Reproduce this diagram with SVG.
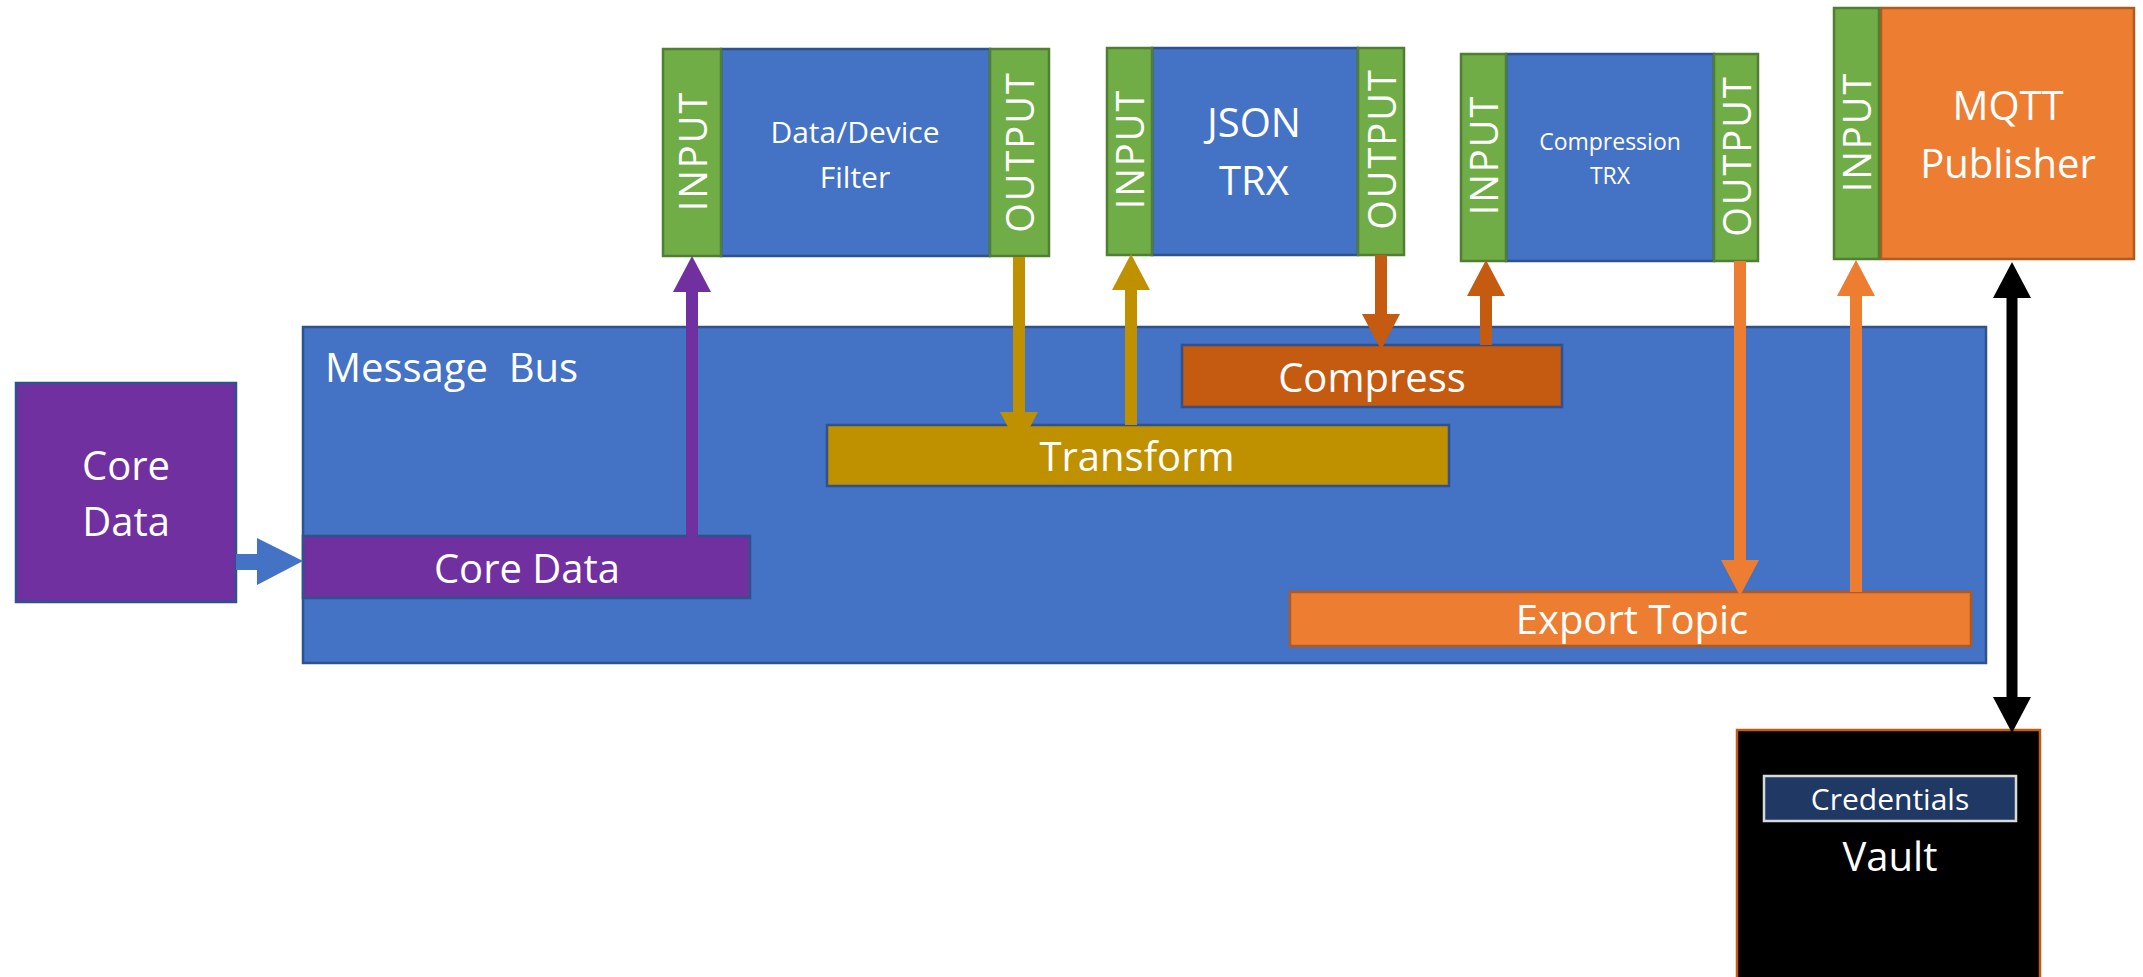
<svg xmlns="http://www.w3.org/2000/svg" width="2143" height="977" viewBox="0 0 2143 977">
<style>
text{font-family:"Open Sans","Noto Sans","Liberation Sans",sans-serif;fill:#fff;text-anchor:middle}
.t40{font-size:40px}
.t31{font-size:30px}
.t23{font-size:23px}
.io{font-size:38px;letter-spacing:2px}
.blue{fill:#4472C4;stroke:#2F528F;stroke-width:2.5}
.green{fill:#70AD47;stroke:#507E32;stroke-width:2.5}
.purple{fill:#7030A0;stroke:#2F528F;stroke-width:2.5}
.gold{fill:#BF9000;stroke:#2F528F;stroke-width:2.5}
.rust{fill:#C55A11;stroke:#2F528F;stroke-width:2.5}
.orange{fill:#ED7D31;stroke:#AE5A21;stroke-width:2.5}
.c{fill:none;stroke-width:12}
</style>
<defs>
<marker id="hP" markerUnits="userSpaceOnUse" markerWidth="36" markerHeight="38" viewBox="0 0 35 37" refX="0" refY="18.5" orient="auto"><path d="M0,0 L35,18.5 L0,37 z" fill="#7030A0"/></marker>
<marker id="hG" markerUnits="userSpaceOnUse" markerWidth="36" markerHeight="38" viewBox="0 0 35 37" refX="0" refY="18.5" orient="auto"><path d="M0,0 L35,18.5 L0,37 z" fill="#BF9000"/></marker>
<marker id="hR" markerUnits="userSpaceOnUse" markerWidth="36" markerHeight="38" viewBox="0 0 35 37" refX="0" refY="18.5" orient="auto"><path d="M0,0 L35,18.5 L0,37 z" fill="#C55A11"/></marker>
<marker id="hO" markerUnits="userSpaceOnUse" markerWidth="36" markerHeight="38" viewBox="0 0 35 37" refX="0" refY="18.5" orient="auto"><path d="M0,0 L35,18.5 L0,37 z" fill="#ED7D31"/></marker>
<marker id="hK" markerUnits="userSpaceOnUse" markerWidth="36" markerHeight="38" viewBox="0 0 35 37" refX="0" refY="18.5" orient="auto"><path d="M0,0 L35,18.5 L0,37 z" fill="#000"/></marker>
<marker id="hKs" markerUnits="userSpaceOnUse" markerWidth="36" markerHeight="38" viewBox="0 0 35 37" refX="0" refY="18.5" orient="auto-start-reverse"><path d="M0,0 L35,18.5 L0,37 z" fill="#000"/></marker>
</defs>

<g id="message-bus">
<rect class="blue" x="303" y="327" width="1683" height="336"/>
<text class="t40" x="325" y="382" style="text-anchor:start;white-space:pre" xml:space="preserve">Message  Bus</text>
</g>

<g id="core-data-src">
<rect class="purple" x="16" y="383" width="220" height="219"/>
<text class="t40" x="126" y="480">Core</text>
<text class="t40" x="126" y="536">Data</text>
</g>

<g id="core-data-topic">
<rect class="purple" x="303" y="536" width="447" height="62"/>
<text class="t40" x="527" y="583">Core Data</text>
</g>

<g id="transform-topic">
<rect class="gold" x="827" y="425" width="622" height="61"/>
<text class="t40" x="1137" y="471">Transform</text>
</g>

<g id="compress-topic">
<rect class="rust" x="1182" y="345" width="380" height="62"/>
<text class="t40" x="1372" y="392">Compress</text>
</g>

<g id="export-topic">
<rect class="orange" x="1290" y="592" width="681" height="54"/>
<text class="t40" x="1632" y="634">Export Topic</text>
</g>

<g id="filter">
<rect class="blue" x="721" y="49" width="269" height="207"/>
<rect class="green" x="663" y="49" width="58" height="207"/>
<rect class="green" x="990" y="49" width="59" height="207"/>
<text class="t31" x="855" y="143">Data/Device</text>
<text class="t31" x="855" y="188">Filter</text>
<text class="io" transform="translate(693,151) rotate(-90)" y="14">INPUT</text>
<text class="io" transform="translate(1020,152) rotate(-90)" y="14">OUTPUT</text>
</g>

<g id="json-trx">
<rect class="blue" x="1152" y="48" width="206" height="207"/>
<rect class="green" x="1107" y="48" width="45" height="207"/>
<rect class="green" x="1358" y="48" width="46" height="207"/>
<text class="t40" x="1254" y="137">JSON</text>
<text class="t40" x="1254" y="195">TRX</text>
<text class="io" transform="translate(1130,149) rotate(-90)" y="14">INPUT</text>
<text class="io" transform="translate(1382,149) rotate(-90)" y="14">OUTPUT</text>
</g>

<g id="compression-trx">
<rect class="blue" x="1506" y="54" width="208" height="207"/>
<rect class="green" x="1461" y="54" width="45" height="207"/>
<rect class="green" x="1714" y="54" width="44" height="207"/>
<text class="t23" x="1610" y="150">Compression</text>
<text class="t23" x="1610" y="184">TRX</text>
<text class="io" transform="translate(1484,155) rotate(-90)" y="14">INPUT</text>
<text class="io" transform="translate(1737,156) rotate(-90)" y="14">OUTPUT</text>
</g>

<g id="mqtt-publisher">
<rect class="orange" x="1881" y="8" width="253" height="251"/>
<rect class="green" x="1834" y="8" width="45" height="251"/>
<text class="t40" x="2008" y="120">MQTT</text>
<text class="t40" x="2008" y="178">Publisher</text>
<text class="io" transform="translate(1857,132) rotate(-90)" y="14">INPUT</text>
</g>

<g id="vault">
<rect x="1737" y="730" width="303" height="260" fill="#000" stroke="#C55A11" stroke-width="2.5"/>
<rect x="1764" y="776" width="252" height="45" fill="#203864" stroke="#D9D9D9" stroke-width="2.5"/>
<text class="t31" x="1890" y="810">Credentials</text>
<text class="t40" x="1890" y="871">Vault</text>
</g>

<g id="connectors">
<path d="M236,554 L257,554 L257,538 L303,561 L257,585 L257,570 L236,570 z" fill="#4472C4"/>
<line class="c" x1="692" y1="537" x2="692" y2="292" stroke="#7030A0" marker-end="url(#hP)"/>
<line class="c" x1="1019" y1="257" x2="1019" y2="412" stroke="#BF9000" marker-end="url(#hG)"/>
<line class="c" x1="1131" y1="425" x2="1131" y2="290" stroke="#BF9000" marker-end="url(#hG)"/>
<line class="c" x1="1381" y1="255" x2="1381" y2="314" stroke="#C55A11" marker-end="url(#hR)"/>
<line class="c" x1="1486" y1="345" x2="1486" y2="296" stroke="#C55A11" marker-end="url(#hR)"/>
<line class="c" x1="1740" y1="261" x2="1740" y2="560" stroke="#ED7D31" marker-end="url(#hO)"/>
<line class="c" x1="1856" y1="592" x2="1856" y2="296" stroke="#ED7D31" marker-end="url(#hO)"/>
<line x1="2012" y1="298" x2="2012" y2="697" stroke="#000" stroke-width="11" marker-start="url(#hKs)" marker-end="url(#hK)"/>
</g>
</svg>
